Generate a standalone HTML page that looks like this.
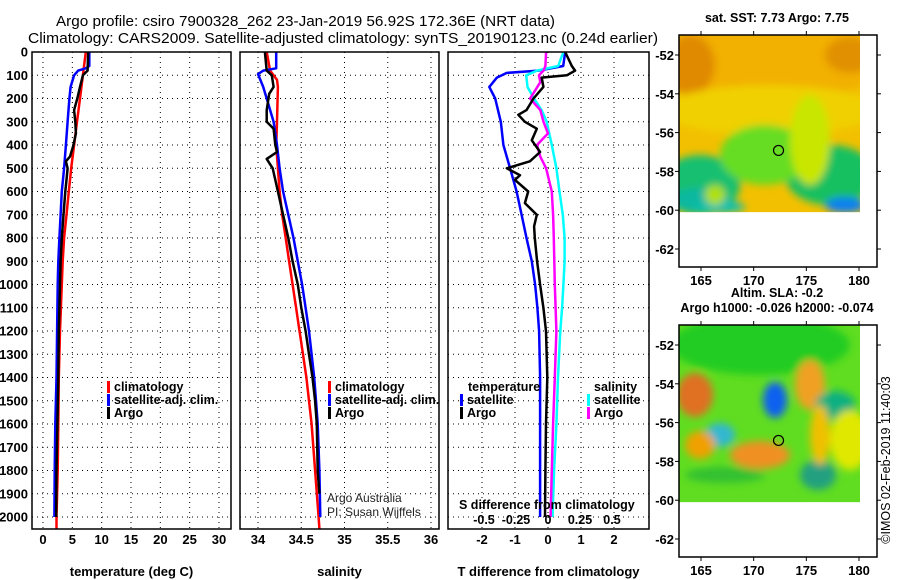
<!DOCTYPE html>
<html><head><meta charset="utf-8">
<style>
html,body{margin:0;padding:0;background:#fff;}
svg{display:block;font-family:"Liberation Sans",sans-serif;}
.b{font-weight:bold;}
</style></head>
<body>
<svg id="chart" width="900" height="580" viewBox="0 0 900 580" xmlns="http://www.w3.org/2000/svg">
<rect width="900" height="580" fill="#fff"/>
<text x="56" y="26" font-size="15" textLength="499" lengthAdjust="spacingAndGlyphs">Argo profile: csiro 7900328_262 23-Jan-2019 56.92S 172.36E (NRT data)</text>
<text x="28" y="43" font-size="15" textLength="630" lengthAdjust="spacingAndGlyphs">Climatology: CARS2009. Satellite-adjusted climatology: synTS_20190123.nc (0.24d earlier)</text>
<g id="plots"></g>
<g id="maps"></g>
</svg>
<script>
// depth axis
const depthTicks=[0,100,200,300,400,500,600,700,800,900,1000,1100,1200,1300,1400,1500,1600,1700,1800,1900,2000];
// temperature panel
const tTicks=[0,5,10,15,20,25,30];
const tClimD=[0,100,200,300,400,500,600,700,800,900,1000,1200,1400,1600,1800,2000,2050];
const tClim=[7.3,6.8,6.3,5.8,5.3,4.8,4.4,4.0,3.6,3.35,3.2,2.9,2.7,2.6,2.5,2.3,2.3];
const tSatD=[0,60,70,80,100,150,200,300,400,500,600,700,800,900,1000,1200,1400,1600,1800,2000];
const tSat=[7.9,7.9,7.3,6.0,5.3,4.7,4.5,4.2,3.9,3.6,3.2,3.0,2.8,2.6,2.5,2.4,2.3,2.1,2.0,1.95];
const tArgoD=[0,80,100,150,200,250,300,350,400,450,470,500,550,600,700,800,900,1000,1200,1400,1600,1800,2000];
const tArgo=[7.7,7.6,6.8,6.3,5.85,5.3,5.5,5.6,5.2,4.6,3.9,4.2,4.0,3.8,3.5,3.2,3.0,2.9,2.7,2.6,2.45,2.3,2.25];
// salinity panel
const sTicks=[34,34.5,35,35.5,36];
const sTickLabels=["34","34.5","35","35.5","36"];
const sClimD=[0,80,120,150,300,400,500,600,700,800,900,1000,1100,1200,1300,1400,1500,1600,1800,2000,2050];
const sClim=[34.10,34.14,34.22,34.23,34.22,34.21,34.23,34.25,34.28,34.32,34.36,34.40,34.44,34.48,34.52,34.56,34.59,34.62,34.66,34.70,34.71];
const sSatD=[0,70,80,95,150,200,300,400,500,600,700,800,900,1000,1100,1200,1300,1400,1500,1600,1800,2000];
const sSat=[34.21,34.21,34.06,34.00,34.06,34.10,34.18,34.22,34.25,34.29,34.35,34.41,34.46,34.51,34.55,34.59,34.62,34.65,34.67,34.69,34.71,34.72];
const sArgoD=[0,80,100,150,180,250,300,330,400,430,460,500,550,600,700,800,900,1000,1100,1200,1300,1400,1500,1600,1800,1900];
const sArgo=[34.08,34.10,34.16,34.18,34.13,34.10,34.10,34.18,34.20,34.22,34.10,34.17,34.20,34.23,34.29,34.35,34.40,34.46,34.50,34.55,34.59,34.63,34.66,34.68,34.69,34.71];
// difference panel
const dTTicks=[-2,-1,0,1,2];
const dSTicks=[-0.5,-0.25,0,0.25,0.5];
const dSTickLabels=["-0.5","-0.25","0","0.25","0.5"];
const dTSatD=[0,60,80,90,110,150,200,300,400,500,600,700,800,900,1000,1100,1200,1400,1600,1800,2000];
const dTSat=[0.52,0.46,-0.29,-1.25,-1.55,-1.78,-1.6,-1.43,-1.35,-1.15,-0.95,-0.8,-0.65,-0.49,-0.39,-0.32,-0.27,-0.24,-0.24,-0.24,-0.24];
const dTArgoD=[0,60,80,100,110,150,200,250,270,300,330,380,430,470,500,530,550,600,650,700,750,800,900,1000,1100,1200,1400,1600,1800,2000];
const dTArgo=[0.52,0.72,0.82,0.57,-0.19,-0.14,-0.44,-0.65,-0.9,-0.7,-0.34,-0.49,-0.24,-0.55,-1.25,-0.85,-1.0,-0.6,-0.7,-0.34,-0.42,-0.4,-0.33,-0.24,-0.14,-0.06,-0.02,-0.06,-0.08,-0.09];
const dSSatD=[0,60,80,100,150,200,250,300,400,500,600,700,800,900,1000,1100,1200,1400,1600,1800,2000];
const dSSat=[0.12,0.08,-0.086,-0.17,-0.16,-0.11,-0.05,-0.01,0.03,0.066,0.09,0.116,0.13,0.13,0.12,0.11,0.096,0.078,0.066,0.048,0.035];
const dSArgoD=[0,60,80,100,130,200,250,300,350,400,450,500,600,700,800,1000,1200,1400,1600,1800,2000];
const dSArgo=[-0.015,-0.02,-0.035,-0.07,-0.06,-0.14,-0.06,-0.035,0,-0.086,-0.06,-0.015,0.03,0.04,0.045,0.053,0.066,0.053,0.04,0.03,0.02];

const NS="http://www.w3.org/2000/svg";
const plots=document.getElementById('plots');
function el(tag,attrs,parent){const e=document.createElementNS(NS,tag);for(const k in attrs)e.setAttribute(k,attrs[k]);(parent||plots).appendChild(e);return e;}
const top_=52, bot=529;
const yD=d=>top_+d*(517-top_)/2000;

function panel(name,x0,x1,xf,ticks,labels,xtitle){
  const g=el('g',{});
  
  
  depthTicks.forEach(d=>{el('line',{x1:x0,x2:x1,y1:yD(d),y2:yD(d),stroke:'#000','stroke-width':1,'stroke-dasharray':'1,4'},g);});
  ticks.forEach((v,i)=>{const x=xf(v);
    el('line',{x1:x,x2:x,y1:top_,y2:bot,stroke:'#000','stroke-width':1,'stroke-dasharray':'1,4'},g);
    const t=el('text',{x:x,y:544,'text-anchor':'middle','font-size':13,class:'b'},g);t.textContent=labels[i];
    
    
  });
  const tt=el('text',{x:(x0+x1)/2,y:576,'text-anchor':'middle','font-size':13,class:'b'},g);tt.textContent=xtitle;
  
  
  return g;
}
function frame(g,x0,x1){el('rect',{x:x0,y:top_,width:x1-x0,height:bot-top_,fill:'none',stroke:'#000','stroke-width':1.5},g);}
function series(g,ds,vs,xf,color,name){
  const pts=ds.map((d,i)=>xf(vs[i]).toFixed(1)+','+yD(d).toFixed(1)).join(' ');
  const p=el('polyline',{points:pts,fill:'none',stroke:color,'stroke-width':2.5,'stroke-linejoin':'round'},g);
  
  
}
function legendRow(g,x,y,color,label){
  el('rect',{x:x,y:y-6,width:3,height:12,fill:color},g);
  const t=el('text',{x:x+7,y:y+4,'font-size':12.5,class:'b'},g);t.textContent=label;
  
  
}
depthTicks.forEach(d=>{const t=el('text',{x:28,y:yD(d)+4.5,'text-anchor':'end','font-size':13,class:'b'});t.textContent=d;
  
  });

// temperature
const xT=v=>43+v*(219-43)/30;
let g=panel('temperature',32,231,xT,tTicks,tTicks.map(String),'temperature (deg C)');
series(g,tClimD,tClim,xT,'#ff0000','temp-climatology-line');
series(g,tSatD,tSat,xT,'#0000ff','temp-satellite-line');
series(g,tArgoD,tArgo,xT,'#000000','temp-argo-line');
frame(g,32,231);
legendRow(g,107,387,'#f00','climatology');legendRow(g,107,400,'#00f','satellite-adj. clim.');legendRow(g,107,413,'#000','Argo');

// salinity
const xS=v=>258+(v-34)*(431-258)/2;
g=panel('salinity',240,439,xS,sTicks,sTickLabels,'salinity');
series(g,sClimD,sClim,xS,'#ff0000','sal-climatology-line');
series(g,sSatD,sSat,xS,'#0000ff','sal-satellite-line');
series(g,sArgoD,sArgo,xS,'#000000','sal-argo-line');
frame(g,240,439);
legendRow(g,328,387,'#f00','climatology');legendRow(g,328,400,'#00f','satellite-adj. clim.');legendRow(g,328,413,'#000','Argo');
let c=el('text',{x:327,y:502,'font-size':12,fill:'#222'},g);c.textContent='Argo Australia';


c=el('text',{x:327,y:516,'font-size':12,fill:'#222'},g);c.textContent='PI: Susan Wijffels';



// difference
const xDT=v=>548+v*33;
const xDS=v=>548+v*128;
g=panel('difference',448,649,xDT,dTTicks,dTTicks.map(String),'T difference from climatology');
series(g,dTSatD,dTSat,xDT,'#0000ff','dT-satellite-line');
series(g,dSSatD,dSSat,xDS,'#00ffff','dS-satellite-line');
series(g,dSArgoD,dSArgo,xDS,'#ff00ff','dS-argo-line');
series(g,dTArgoD,dTArgo,xDT,'#000000','dT-argo-line');
frame(g,448,649);
let h=el('text',{x:468,y:391,'font-size':12.5,class:'b'},g);h.textContent='temperature';


h=el('text',{x:594,y:391,'font-size':12.5,class:'b'},g);h.textContent='salinity';


legendRow(g,460,400,'#00f','satellite');legendRow(g,460,413,'#000','Argo');
legendRow(g,587,400,'#0ff','satellite');legendRow(g,587,413,'#f0f','Argo');
h=el('text',{x:459,y:509,'font-size':12.5,class:'b'},g);h.textContent='S difference from climatology';


dSTicks.forEach((v,i)=>{const t=el('text',{x:xDS(v),y:524,'text-anchor':'middle','font-size':12.5,class:'b'},g);t.textContent=dSTickLabels[i];
  
  });

// ---- maps ----
const maps=document.getElementById('maps');
function mel(tag,attrs,parent){const e=document.createElementNS(NS,tag);for(const k in attrs)e.setAttribute(k,attrs[k]);(parent||maps).appendChild(e);return e;}
const latTicks=[-52,-54,-56,-58,-60,-62];
const lonTicks=[165,170,175,180];
const lonX=lon=>701+(lon-165)*(859-701)/15;
const argoLon=172.36, argoLat=-56.92;
const defs=mel('defs',{});
const f=mel('filter',{id:'bl',x:'-20%',y:'-20%',width:'140%',height:'140%'},defs);
mel('feGaussianBlur',{stdDeviation:4},f);
function map(name,y0,title,blobs,base){
  const latY=lat=>y0+20+(-52-lat)*19.4;
  const g=mel('g',{});
  
  
  const cp=mel('clipPath',{id:'cp'+name},defs);
  mel('rect',{x:679,y:y0,width:181,height:latY(-60.1)-y0},cp);
  const cg=mel('g',{'clip-path':'url(#cp'+name+')'},g);
  mel('rect',{x:679,y:y0,width:181,height:200,fill:base},cg);
  const bg=mel('g',{filter:'url(#bl)'},cg);
  blobs.forEach(b=>mel('ellipse',{cx:b[0],cy:y0+b[1],rx:b[2],ry:b[3],fill:b[4]},bg));
  mel('rect',{x:679,y:y0,width:198,height:232,fill:'none',stroke:'#000','stroke-width':1.5},g);
  latTicks.forEach(l=>{const y=latY(l);
    mel('line',{x1:675,x2:679,y1:y,y2:y,stroke:'#000'},g);mel('line',{x1:877,x2:881,y1:y,y2:y,stroke:'#000'},g);
    const t=mel('text',{x:674,y:y+5,'text-anchor':'end','font-size':13,class:'b'},g);t.textContent=l;
    
    });
  lonTicks.forEach(l=>{const x=lonX(l);
    mel('line',{x1:x,x2:x,y1:y0-4,y2:y0,stroke:'#000'},g);mel('line',{x1:x,x2:x,y1:y0+232,y2:y0+236,stroke:'#000'},g);
    const t=mel('text',{x:x,y:y0+250,'text-anchor':'middle','font-size':13,class:'b'},g);t.textContent=l;
    
    });
  const m=mel('circle',{cx:lonX(argoLon),cy:latY(argoLat),r:5,fill:'none',stroke:'#000','stroke-width':1.2},g);
  
  
  title.forEach((s,i)=>{const t=mel('text',{x:777,y:y0-13-(title.length-1-i)*15,'text-anchor':'middle','font-size':12.5,class:'b'},g);t.textContent=s;
    
    });
}
map('sst-map',35,['sat. SST: 7.73 Argo: 7.75'],[
 [770,25,110,45,'#f2b000'],[690,30,25,30,'#e08a00'],[850,20,25,18,'#e09000'],
 [770,75,110,25,'#f0d000'],[700,150,40,30,'#18c070'],[830,140,45,30,'#18c060'],
 [765,120,45,30,'#66dd22'],[810,105,20,45,'#c8e600'],[700,165,30,12,'#10b8a0'],
 [845,170,20,8,'#1080f0'],[720,172,25,6,'#10c0b0'],[715,160,10,10,'#b0e000']
],'#f2c000');
map('sla-map',325,['Altim. SLA: -0.2','Argo h1000: -0.026 h2000: -0.074'],[
 [760,20,90,30,'#22cc22'],[695,70,18,22,'#e07020'],[810,60,15,25,'#f0a020'],
 [775,75,12,18,'#1060f0'],[720,110,15,12,'#30b8d0'],[700,120,15,14,'#f0a000'],
 [760,130,30,14,'#f09020'],[835,80,20,14,'#10b080'],[850,115,20,30,'#e0e800'],
 [818,150,18,15,'#20a080'],[725,150,40,8,'#30c030'],[820,110,10,30,'#f0c000']
],'#60dd20');
const ts=mel('text',{transform:'translate(890,460) rotate(-90)','text-anchor':'middle','font-size':12.5},maps);
ts.textContent='©IMOS 02-Feb-2019 11:40:03';


</script>
</body></html>
